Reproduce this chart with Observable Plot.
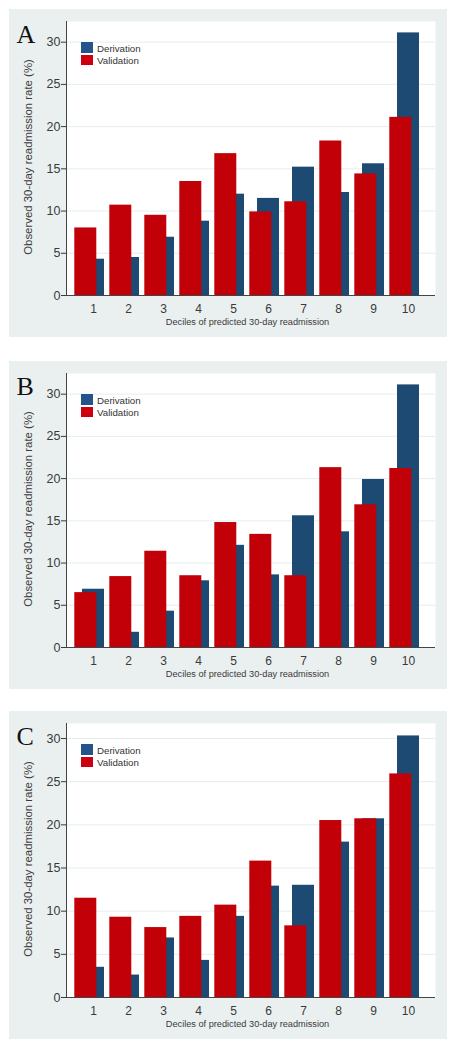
<!DOCTYPE html>
<html>
<head>
<meta charset="utf-8">
<script src="https://cdn.jsdelivr.net/npm/d3@7"></script>
<script src="https://cdn.jsdelivr.net/npm/@observablehq/plot@0.6"></script>
<style>
  body { margin: 0; background: #fff; font-family: "Liberation Sans", Arial, sans-serif; }
  .panel { position: absolute; left: 9px; width: 438px; height: 328px; background: #eaf0f0; overflow: hidden; }
  .panel svg { position: absolute; left: 0; top: 0; }
  .sw { position: absolute; left: 72px; width: 11.5px; }
  .lt { position: absolute; left: 88px; font-size: 9.7px; line-height: 10px; color: #333; white-space: nowrap; }
</style>
</head>
<body>
<script>
// ---- data ----
const deciles = [1, 2, 3, 4, 5, 6, 7, 8, 9, 10];
const yTicks = [0, 5, 10, 15, 20, 25, 30];
const seriesNames = ["Derivation", "Validation"];
const panelLetters = ["A", "B", "C"];
const xTitle = "Deciles of predicted 30-day readmission";
const yTitle = "Observed 30-day readmission rate (%)";

const derivA = [4.3, 4.5, 6.9, 8.8, 12.0, 11.5, 15.2, 12.2, 15.6, 31.1];
const validA = [8.0, 10.7, 9.5, 13.5, 16.8, 9.9, 11.1, 18.3, 14.4, 21.1];
const derivB = [6.9, 1.8, 4.3, 7.9, 12.1, 8.6, 15.6, 13.7, 19.9, 31.1];
const validB = [6.5, 8.4, 11.4, 8.5, 14.8, 13.4, 8.5, 21.3, 16.9, 21.2];
const derivC = [3.5, 2.6, 6.9, 4.3, 9.4, 12.9, 13.0, 18.0, 20.7, 30.3];
const validC = [11.5, 9.3, 8.1, 9.4, 10.7, 15.8, 8.3, 20.5, 20.7, 25.9];

// ---- styling / layout ----
const colDeriv = "#1d4a72";
const colValid = "#c10008";
const legendCols = ["#24548a", "#cc0010"];
const panels = [
  { letter: panelLetters[0], deriv: derivA, valid: validA, top: 9,   yMax: 32.45 },
  { letter: panelLetters[1], deriv: derivB, valid: validB, top: 361, yMax: 32.45 },
  { letter: panelLetters[2], deriv: derivC, valid: validC, top: 711, yMax: 31.74 }
];

for (const p of panels) {
  const rowsD = deciles.map((d, i) => ({ decile: d, series: seriesNames[0], value: p.deriv[i] }));
  const rowsV = deciles.map((d, i) => ({ decile: d, series: seriesNames[1], value: p.valid[i] }));

  const chart = Plot.plot({
    width: 438,
    height: 328,
    marginLeft: 57,
    marginRight: 12,
    marginTop: 12,
    marginBottom: 42,
    style: { background: "transparent", fontFamily: "'Liberation Sans', Arial, sans-serif", color: "#3a3a3a" },
    x: { type: "band", domain: deciles, paddingInner: 0.376, paddingOuter: 0.42, label: null },
    y: { domain: [0, p.yMax], label: null },
    marks: [
      Plot.frame({ fill: "white", stroke: null }),
      Plot.gridY(yTicks.filter(t => t > 0), { stroke: "#e6eded", strokeOpacity: 1 }),
      Plot.barY(rowsD, { x: "decile", y: "value", fill: colDeriv }),
      Plot.barY(rowsV, { x: "decile", y: "value", fill: colValid, dx: -7.7 }),
      Plot.axisY({ ticks: yTicks, tickSize: 5, tickPadding: 1, fontSize: 12.5, label: null }),
      Plot.axisX({ tickSize: 0, tickPadding: 8.5, fontSize: 12, label: null }),
      Plot.ruleY([0], { stroke: "#444" }),
      Plot.frame({ anchor: "left", stroke: "#444" }),
      Plot.text([yTitle], { text: d => d, frameAnchor: "left", textAnchor: "middle", lineAnchor: "middle", rotate: -90, dx: -38, dy: -1.5, fontSize: 11.4, fill: "#3a3a3a" }),
      Plot.text([xTitle], { text: d => d, frameAnchor: "bottom", textAnchor: "middle", lineAnchor: "middle", dx: -3.5, dy: 26.6, fontSize: 9.2, fill: "#3a3a3a" }),
      Plot.text([p.letter], { text: d => d, frameAnchor: "top-left", textAnchor: "start", lineAnchor: "top", dx: -50, dy: 3, fontSize: 26, fontFamily: "'Liberation Serif', 'Times New Roman', serif", fill: "#111" })
    ]
  });

  const div = document.createElement("div");
  div.className = "panel";
  div.style.top = p.top + "px";
  div.append(chart);

  // legend inside plot
  const sw1 = document.createElement("div");
  sw1.className = "sw"; sw1.style.top = "33.3px"; sw1.style.height = "10.4px"; sw1.style.background = legendCols[0];
  const sw2 = document.createElement("div");
  sw2.className = "sw"; sw2.style.top = "46.3px"; sw2.style.height = "9.6px"; sw2.style.background = legendCols[1];
  const t1 = document.createElement("div");
  t1.className = "lt"; t1.style.top = "35.3px"; t1.textContent = seriesNames[0];
  const t2 = document.createElement("div");
  t2.className = "lt"; t2.style.top = "46.9px"; t2.textContent = seriesNames[1];
  div.append(sw1, sw2, t1, t2);

  document.body.append(div);
}
</script>
</body>
</html>
